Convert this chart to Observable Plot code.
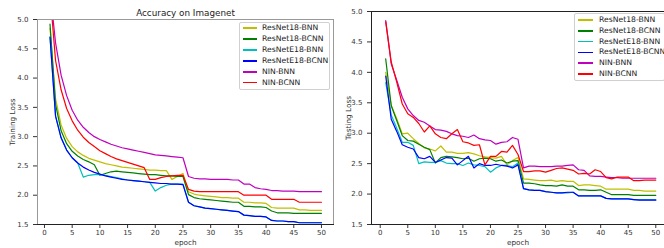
<!DOCTYPE html>
<html>
<head>
<meta charset="utf-8">
<script src="https://cdn.jsdelivr.net/npm/d3@7"></script>
<script src="https://cdn.jsdelivr.net/npm/@observablehq/plot@0.6"></script>
<style>
  html, body { margin: 0; padding: 0; background: white; }
  #wrap { position: relative; width: 664px; height: 248px; overflow: hidden; background: white; font-family: "DejaVu Sans", sans-serif; }
  #wrap svg { position: absolute; top: 0; }
  .legend { position: absolute; border: 1px solid #d0d0d0; border-radius: 2px; background: rgba(255,255,255,0.85); box-sizing: border-box; }
  .legend .row { position: absolute; left: 0; height: 10px; }
  .legend .sw { position: absolute; height: 1.5px; }
  .legend .lb { position: absolute; font-size: 7.7px; line-height: 10px; color: #222; white-space: nowrap; }
</style>
</head>
<body>
<div id="wrap"></div>
<script>
const seriesNames = ["ResNet18-BNN", "ResNet18-BCNN", "ResNetE18-BNN", "ResNetE18-BCNN", "NIN-BNN", "NIN-BCNN"];
const seriesColors = ["#bfbf00", "#008000", "#00bfbf", "#0000ff", "#bf00bf", "#ff0000"];
const epochs = [1,2,3,4,5,6,7,8,9,10,11,12,13,14,15,16,17,18,19,20,21,22,23,24,25,26,27,28,29,30,31,32,33,34,35,36,37,38,39,40,41,42,43,44,45,46,47,48,49,50];
const xTicks = [0,5,10,15,20,25,30,35,40,45,50];
const yTicks = [1.5,2.0,2.5,3.0,3.5,4.0,4.5,5.0];

// Training loss (left panel)
const trainR18BNN = [4.85,3.65,3.2,2.97,2.83,2.74,2.68,2.63,2.6,2.57,2.54,2.52,2.5,2.48,2.47,2.46,2.45,2.44,2.43,2.43,2.42,2.42,2.27,2.32,2.37,2.06,2.02,2.0,1.99,1.98,1.97,1.96,1.96,1.95,1.95,1.88,1.88,1.87,1.87,1.86,1.79,1.78,1.78,1.78,1.78,1.75,1.75,1.74,1.74,1.74];
const trainR18BCNN = [4.92,3.55,3.1,2.88,2.75,2.67,2.61,2.57,2.52,2.34,2.37,2.4,2.41,2.4,2.39,2.38,2.37,2.36,2.35,2.35,2.34,2.33,2.33,2.32,2.32,2.01,1.96,1.94,1.93,1.92,1.91,1.9,1.89,1.88,1.88,1.81,1.81,1.8,1.8,1.79,1.73,1.7,1.7,1.7,1.69,1.69,1.69,1.69,1.69,1.69];
const trainRE18BNN = [4.7,3.35,2.98,2.77,2.64,2.55,2.31,2.34,2.35,2.35,2.34,2.32,2.3,2.28,2.26,2.25,2.24,2.23,2.22,2.07,2.13,2.17,2.19,2.19,2.19,1.88,1.82,1.8,1.78,1.77,1.76,1.75,1.74,1.73,1.72,1.66,1.65,1.64,1.64,1.63,1.57,1.56,1.56,1.55,1.55,1.53,1.53,1.53,1.53,1.53];
const trainRE18BCNN = [4.7,3.35,2.98,2.77,2.64,2.55,2.48,2.43,2.39,2.36,2.33,2.31,2.29,2.27,2.26,2.25,2.24,2.23,2.22,2.21,2.2,2.2,2.19,2.19,2.18,1.88,1.82,1.8,1.78,1.77,1.76,1.75,1.74,1.73,1.72,1.66,1.65,1.64,1.64,1.63,1.57,1.56,1.56,1.55,1.55,1.53,1.53,1.53,1.53,1.53];
const trainNINBNN = [5.5,4.6,4.05,3.7,3.45,3.28,3.16,3.07,3.0,2.95,2.91,2.87,2.84,2.81,2.79,2.77,2.75,2.73,2.71,2.69,2.68,2.67,2.66,2.65,2.64,2.32,2.29,2.28,2.28,2.27,2.27,2.27,2.27,2.26,2.26,2.19,2.19,2.13,2.11,2.1,2.08,2.08,2.07,2.07,2.07,2.06,2.06,2.06,2.06,2.06];
const trainNINBCNN = [5.45,4.3,3.8,3.48,3.27,3.11,2.99,2.9,2.83,2.76,2.71,2.66,2.62,2.59,2.56,2.53,2.5,2.47,2.27,2.27,2.3,2.32,2.33,2.34,2.34,2.1,2.07,2.06,2.06,2.06,2.06,2.06,2.06,2.06,2.06,2.0,2.0,2.0,2.0,2.0,1.93,1.93,1.93,1.93,1.93,1.88,1.88,1.88,1.88,1.88];

// Testing loss (right panel)
const testR18BNN = [4.0,3.46,3.24,2.99,3.0,2.91,2.83,2.76,2.74,2.71,2.79,2.69,2.69,2.67,2.67,2.68,2.66,2.63,2.61,2.6,2.59,2.62,2.48,2.55,2.6,2.25,2.24,2.23,2.22,2.22,2.23,2.21,2.22,2.21,2.21,2.14,2.15,2.15,2.14,2.13,2.08,2.08,2.08,2.08,2.08,2.06,2.06,2.05,2.05,2.05];
const testR18BCNN = [4.22,3.45,3.21,2.96,2.88,2.87,2.82,2.77,2.73,2.51,2.6,2.62,2.61,2.6,2.58,2.59,2.54,2.58,2.59,2.58,2.54,2.56,2.51,2.54,2.55,2.18,2.18,2.17,2.15,2.14,2.14,2.13,2.15,2.13,2.13,2.07,2.07,2.06,2.06,2.07,2.03,1.99,1.99,1.99,1.99,1.98,1.98,1.98,1.98,1.98];
const testRE18BNN = [3.83,3.3,3.08,2.85,2.85,2.8,2.5,2.53,2.52,2.52,2.55,2.51,2.5,2.5,2.47,2.51,2.48,2.47,2.45,2.36,2.43,2.47,2.47,2.45,2.51,2.09,2.07,2.06,2.06,2.04,2.03,2.02,2.02,2.02,2.03,1.97,1.97,1.97,1.97,1.97,1.93,1.92,1.92,1.92,1.92,1.91,1.91,1.91,1.91,1.91];
const testRE18BCNN = [3.94,3.23,3.03,2.81,2.77,2.74,2.6,2.58,2.62,2.52,2.56,2.6,2.59,2.48,2.55,2.62,2.43,2.5,2.47,2.47,2.49,2.47,2.46,2.43,2.48,2.09,2.07,2.06,2.06,2.04,2.03,2.02,2.02,2.03,2.03,1.97,1.97,1.97,1.97,1.97,1.93,1.92,1.92,1.92,1.92,1.91,1.9,1.9,1.9,1.9];
const testNINBNN = [4.85,4.14,3.87,3.59,3.4,3.29,3.21,3.18,3.12,3.06,3.05,3.03,2.99,2.96,2.95,2.93,2.97,2.91,2.89,2.88,2.82,2.85,2.86,2.93,2.9,2.43,2.46,2.46,2.45,2.45,2.45,2.46,2.46,2.47,2.48,2.4,2.39,2.3,2.29,2.29,2.28,2.27,2.27,2.26,2.26,2.26,2.26,2.26,2.26,2.26];
const testNINBCNN = [4.83,4.17,3.84,3.48,3.32,3.26,3.16,3.02,3.12,2.99,2.93,2.91,2.99,3.06,2.86,2.84,2.8,2.81,2.48,2.62,2.62,2.7,2.69,2.8,2.65,2.37,2.37,2.38,2.38,2.36,2.39,2.42,2.43,2.41,2.39,2.33,2.34,2.33,2.4,2.37,2.27,2.25,2.28,2.28,2.28,2.22,2.22,2.23,2.23,2.23];

const trainSeries = [trainR18BNN, trainR18BCNN, trainRE18BNN, trainRE18BCNN, trainNINBNN, trainNINBCNN];
const testSeries = [testR18BNN, testR18BCNN, testRE18BNN, testRE18BCNN, testNINBNN, testNINBCNN];

function toRows(list) {
  return list.flatMap((vals, i) => vals.map((v, j) => ({series: seriesNames[i], epoch: epochs[j], loss: v})));
}

const font = "DejaVu Sans";
const wrap = document.getElementById("wrap");

function panel(opts) {
  const rows = toRows(opts.series);
  const p = Plot.plot({
    width: opts.width,
    height: 248,
    marginLeft: opts.marginLeft,
    marginRight: opts.marginRight,
    marginTop: opts.marginTop,
    marginBottom: 24,
    style: {fontFamily: font, background: "transparent", color: "#333", overflow: "visible"},
    x: {domain: opts.xDomain},
    y: {domain: [1.5, 5.0]},
    color: {domain: seriesNames, range: seriesColors},
    marks: [
      Plot.line(rows, {x: "epoch", y: "loss", z: "series", stroke: "series", strokeWidth: 1.2, clip: true}),
      Plot.axisX({ticks: xTicks, tickSize: 4, tickPadding: 1.5, fontSize: 7, label: null, tickFormat: d3.format("d")}),
      Plot.axisY({ticks: yTicks, tickSize: 4, tickPadding: 5, fontSize: 7, label: null, tickFormat: d3.format(".1f")}),
      ...opts.frame,
      Plot.text([opts.yLabel], {text: d => d, frameAnchor: "left", rotate: -90, dx: -(opts.marginLeft - opts.yLabelX), fontSize: 7.3, fill: "#333", lineAnchor: "middle", textAnchor: "middle"}),
      Plot.text(["epoch"], {text: d => d, frameAnchor: "bottom", dy: 18, fontSize: 7.3, fill: "#333", lineAnchor: "middle"}),
      ...(opts.title ? [Plot.text([opts.title], {text: d => d, frameAnchor: "top", dy: -6.8, fontSize: 8.8, fill: "#222", lineAnchor: "middle"})] : [])
    ]
  });
  p.style.left = opts.left + "px";
  wrap.appendChild(p);
}

// Left panel: training loss
panel({
  series: trainSeries, width: 335, left: 0, marginLeft: 37, marginRight: 2, marginTop: 19,
  xDomain: [-1.26, 52.17], yLabel: "Training Loss", yLabelX: 12, title: "Accuracy on Imagenet",
  frame: [
    Plot.frame({stroke: "#999", strokeWidth: 1}),
    Plot.frame({anchor: "bottom", stroke: "#222", strokeWidth: 1})
  ]
});

// Right panel: testing loss
panel({
  series: testSeries, width: 329, left: 335, marginLeft: 36, marginRight: 0, marginTop: 11,
  xDomain: [-1.58, 51.58], yLabel: "Testing Loss", yLabelX: 348 - 335,
  frame: [
    Plot.frame({anchor: "left", stroke: "#222", strokeWidth: 1}),
    Plot.frame({anchor: "top", stroke: "#222", strokeWidth: 1}),
    Plot.frame({anchor: "bottom", stroke: "#222", strokeWidth: 1})
  ]
});

function legend(box) {
  const d = document.createElement("div");
  d.className = "legend";
  d.style.left = box.x + "px"; d.style.top = box.y + "px";
  d.style.width = box.w + "px"; d.style.height = box.h + "px";
  seriesNames.forEach((name, i) => {
    const cy = box.rows[i] - box.y - 1;
    const sw = document.createElement("div");
    sw.className = "sw";
    sw.style.left = box.swX + "px"; sw.style.width = box.swW + "px";
    sw.style.top = (cy - 0.75) + "px";
    sw.style.background = seriesColors[i];
    const lb = document.createElement("div");
    lb.className = "lb";
    lb.style.left = box.txX + "px";
    lb.style.top = (cy - 5) + "px";
    lb.textContent = name;
    d.appendChild(sw); d.appendChild(lb);
  });
  wrap.appendChild(d);
}

legend({x: 239, y: 22, w: 91, h: 68, rows: [28, 39, 50, 61, 71.8, 82.6], swX: 3, swW: 14, txX: 22});
legend({x: 574, y: 13, w: 91, h: 68, rows: [20, 31, 41.7, 52.4, 63.2, 74], swX: 3, swW: 15, txX: 24});
</script>
</body>
</html>
